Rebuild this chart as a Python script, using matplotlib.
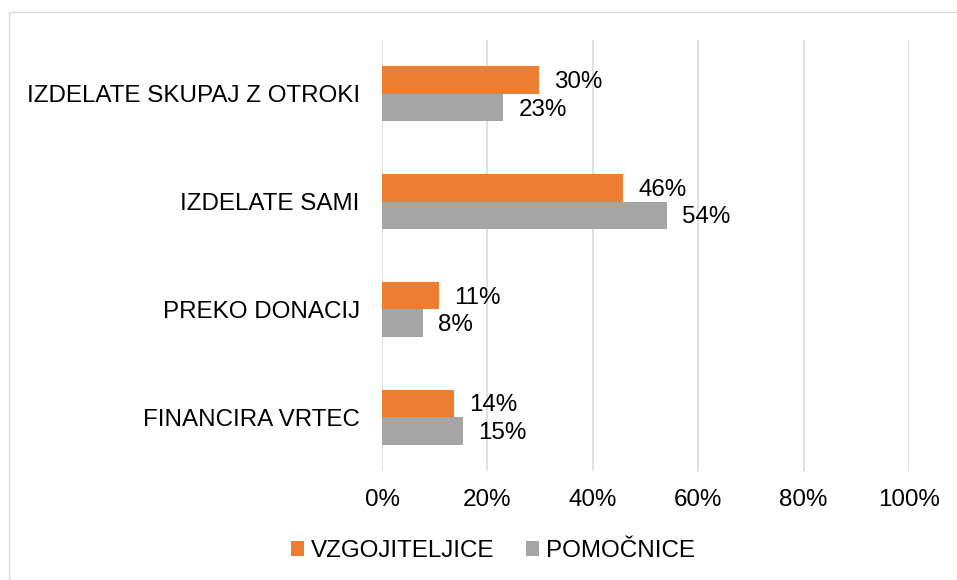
import matplotlib
matplotlib.use("Agg")
import matplotlib.pyplot as plt
from matplotlib.patches import Rectangle
import numpy as np

categories = ["IZDELATE SKUPAJ Z OTROKI", "IZDELATE SAMI", "PREKO DONACIJ", "FINANCIRA VRTEC"]
vzgojiteljice = [0.297, 0.458, 0.108, 0.136]
pomocnice = [0.230, 0.540, 0.078, 0.154]
series_names = ["VZGOJITELJICE", "POMOČNICE"]
xticks = [0, 0.2, 0.4, 0.6, 0.8, 1.0]
xticklabels = ["0%", "20%", "40%", "60%", "80%", "100%"]

plt.rcParams['font.family'] = ['Liberation Sans', 'DejaVu Sans']
FS = 17.4
orange = "#ED7D31"
gray = "#A5A5A5"
grid = "#D9D9D9"

W, H = 957, 580
fig = plt.figure(figsize=(W / 100, H / 100), dpi=100)
fig.patches.append(Rectangle((9 / W, -0.1), 1.2, 1 - 12 / H + 0.1, transform=fig.transFigure,
                             fill=False, edgecolor="#D9D9D9", linewidth=1))

ax = fig.add_axes([382 / W, 1 - 471 / H, (909 - 382) / W, (471 - 40) / H])
y = np.arange(len(categories))
h = 0.255
ax.barh(y - h / 2, vzgojiteljice, height=h, color=orange, label=series_names[0], zorder=3)
ax.barh(y + h / 2, pomocnice, height=h, color=gray, label=series_names[1], zorder=3)

for yi, v in zip(y - h / 2, vzgojiteljice):
    ax.annotate(f"{v*100:.0f}%", (v, yi), xytext=(11, -1.5), textcoords="offset points",
                ha="left", va="center", fontsize=FS)
for yi, v in zip(y + h / 2, pomocnice):
    ax.annotate(f"{v*100:.0f}%", (v, yi), xytext=(11, -1.5), textcoords="offset points",
                ha="left", va="center", fontsize=FS)

ax.set_xlim(0, 1)
ax.set_ylim(len(categories) - 0.5, -0.5)
ax.set_yticks(y)
ax.set_yticklabels(categories, fontsize=FS)
ax.set_xticks(xticks)
ax.set_xticklabels(xticklabels, fontsize=FS)
ax.tick_params(axis="both", length=0)
ax.tick_params(axis="y", pad=16)
ax.tick_params(axis="x", pad=13)
ax.xaxis.grid(True, color=grid, linewidth=1.1, zorder=0)
for s in ax.spines.values():
    s.set_visible(False)
ax.set_facecolor("none")

handles, labels = ax.get_legend_handles_labels()
fig.legend(handles, labels, loc="center", bbox_to_anchor=(493 / W, 1 - 551 / H), ncol=2,
           frameon=False, fontsize=FS, handlelength=0.55, handleheight=0.55,
           handletextpad=0.3, columnspacing=1.3)

fig.savefig("out.png", dpi=100)
